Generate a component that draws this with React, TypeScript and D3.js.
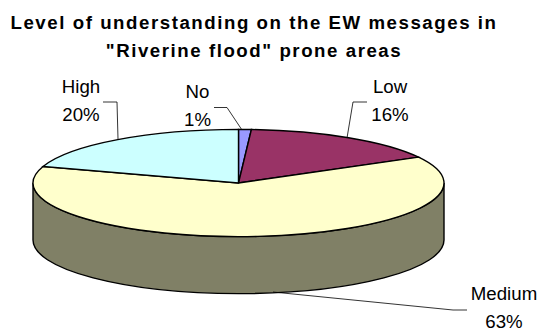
import React from "react";
import * as d3 from "d3";

const categories = ["No", "Low", "Medium", "High"];
const shares = [1, 16, 63, 20];
const sliceColors = ["#9999ff", "#993366", "#ffffcc", "#ccffff"];
const wallColor = "#808066";
const titleLines = ["Level of understanding on the EW messages in", "\"Riverine flood\" prone areas"];

const W = 541, H = 331;
const cx = 238.5, cy = 183, rx = 205.5, ry = 53.6, depth = 57;

const pieGen = d3.pie<number>().sort(null).startAngle(0).endAngle(2 * Math.PI);
const arcs = pieGen(shares);
const arcGen = d3.arc<any>().innerRadius(0).outerRadius(rx);

// Front wall of the disc: the visible half of the rim, extruded downwards.
const wall = `M${cx - rx},${cy} L${cx - rx},${cy + depth} A${rx},${ry} 0 0 0 ${cx + rx},${cy + depth} L${cx + rx},${cy} A${rx},${ry} 0 0 1 ${cx - rx},${cy} Z`;

type Lab = { i: number; x: number; y: number; leader: [number, number][] };
const labels: Lab[] = [
  { i: 0, x: 197.5, y: 98, leader: [[214, 107.5], [227, 107.5], [242, 130]] },
  { i: 1, x: 390, y: 92.5, leader: [[367, 102], [353, 102], [347, 138]] },
  { i: 2, x: 504, y: 300, leader: [[273, 292], [453, 310], [467, 310]] },
  { i: 3, x: 81, y: 92.5, leader: [[103, 102], [117, 102], [118, 139]] },
];

export default function App() {
  const line = d3.line();
  return (
    <svg width={W} height={H} viewBox={`0 0 ${W} ${H}`}
      style={{ position: "absolute", left: 0, top: 0, background: "#fff", fontFamily: "'Liberation Sans', Arial, sans-serif" }}>
      {titleLines.map((t, i) => (
        <text key={i} x={254} y={28.5 + i * 28} textAnchor="middle" fontSize={18.67} fontWeight={700}
          letterSpacing={1.55} fill="#000">{t}</text>
      ))}
      <path d={wall} fill={wallColor} stroke="#000" strokeWidth={1.4} />
      <g transform={`translate(${cx},${cy}) scale(1,${ry / rx})`}>
        {arcs.map((a, i) => (
          <path key={categories[i]} d={arcGen(a) as string} fill={sliceColors[i]} stroke="#000"
            strokeWidth={1.4} vectorEffect="non-scaling-stroke" />
        ))}
      </g>
      {labels.map((l) => (
        <g key={categories[l.i]}>
          <path d={line(l.leader) as string} fill="none" stroke="#000" strokeWidth={0.8} />
          <text x={l.x} textAnchor="middle" fontSize={18.67} fill="#000">
            <tspan x={l.x} y={l.y}>{categories[l.i]}</tspan>
            <tspan x={l.x} y={l.y + 28}>{shares[l.i]}%</tspan>
          </text>
        </g>
      ))}
    </svg>
  );
}
